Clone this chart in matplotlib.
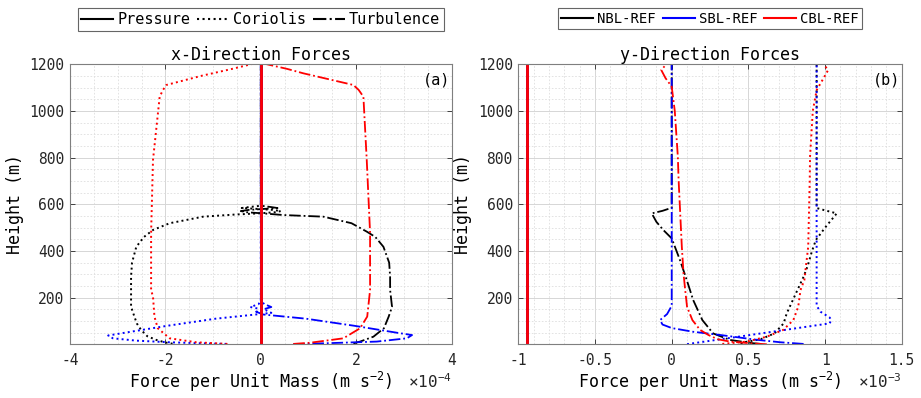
import numpy as np
import matplotlib
matplotlib.use('Agg')
import matplotlib.pyplot as plt
from matplotlib.ticker import MultipleLocator
from matplotlib.lines import Line2D

plt.rcParams['font.family'] = 'DejaVu Sans Mono'
plt.rcParams['mathtext.fontset'] = 'custom'
plt.rcParams['mathtext.rm'] = 'DejaVu Sans Mono'
plt.rcParams['mathtext.it'] = 'DejaVu Sans Mono'
plt.rcParams['axes.unicode_minus'] = False

# ---- x-direction forces (units of 1e-4 m s^-2), heights in m ----
x_pres = 0.0

nbl_cor_x_z = [3, 8, 19, 35, 62, 90, 119, 161, 233, 290, 350, 418, 460, 490, 519, 547,
               556, 561, 566, 571, 576, 580, 584, 588, 594, 800, 1200]
nbl_cor_x = [-1.85, -2.0, -2.19, -2.38, -2.51, -2.6, -2.65, -2.72, -2.72, -2.72, -2.7, -2.61,
             -2.45, -2.26, -1.91, -1.21, -0.55, -0.05, 0.3, 0.42, 0.25, -0.05, -0.4, -0.25, 0, 0, 0]
nbl_tur_x_z = [4, 12, 33, 69, 119, 161, 233, 290, 350, 418, 460, 483, 519, 547,
               554, 561, 566, 571, 576, 580, 584, 588, 594, 800, 1200]
nbl_tur_x = [1.94, 2.08, 2.36, 2.58, 2.68, 2.75, 2.71, 2.71, 2.69, 2.57, 2.4, 2.22, 1.9, 1.31,
             0.47, 0.05, -0.3, -0.42, -0.25, 0.05, 0.35, 0.22, 0, 0, 0]

sbl_cor_x_z = [2, 5, 9, 16, 26, 38, 50, 80, 110, 135, 147, 160, 172, 185, 1200]
sbl_cor_x = [-0.72, -1.3, -1.91, -2.61, -3.1, -3.2, -2.85, -1.95, -0.95, 0.22, 0.1, -0.22, -0.05, 0, 0]
sbl_tur_x_z = [1, 5, 12, 26, 40, 50, 80, 110, 128, 140, 150, 160, 172, 185, 1200]
sbl_tur_x = [0.68, 1.38, 2.43, 3.06, 3.17, 2.85, 1.95, 0.95, 0.05, -0.1, 0.05, 0.22, 0.08, 0, 0]

cbl_cor_x_z = [2, 9, 26, 69, 119, 204, 233, 477, 790, 1061, 1090, 1111, 1150, 1180, 1200]
cbl_cor_x = [-0.7, -1.35, -1.91, -2.16, -2.23, -2.26, -2.3, -2.3, -2.26, -2.12, -2.05, -1.98,
             -1.25, -0.6, -0.2]
cbl_tur_x_z = [2, 7, 26, 69, 119, 233, 477, 790, 1061, 1090, 1111, 1161, 1180, 1200]
cbl_tur_x = [0.68, 1.03, 1.73, 2.08, 2.23, 2.29, 2.29, 2.22, 2.15, 2.05, 1.94, 0.89, 0.55, 0.12]

# ---- y-direction forces (units of 1e-3 m s^-2) ----
y_pres = -0.945

nbl_cor_y_z = [2, 9, 22, 47, 90, 133, 233, 290, 333, 400, 447, 500, 540, 561, 574, 584, 1200]
nbl_cor_y = [0.45, 0.47, 0.58, 0.67, 0.73, 0.75, 0.82, 0.86, 0.885, 0.915, 0.94, 1.0, 1.05,
             1.076, 1.0, 0.945, 0.945]
nbl_tur_y_z = [2, 5, 19, 47, 104, 190, 276, 361, 454, 490, 525, 561, 572, 585, 1200]
nbl_tur_y = [0.58, 0.53, 0.38, 0.27, 0.2, 0.14, 0.098, 0.054, 0.0, -0.055, -0.1, -0.13,
             -0.06, 0, 0]

sbl_cor_y_z = [1, 22, 42, 67, 90, 104, 115, 140, 165, 1200]
sbl_cor_y = [0.1, 0.32, 0.53, 0.79, 1.03, 1.04, 1.03, 0.97, 0.945, 0.945]
sbl_tur_y_z = [2, 9, 20, 40, 54, 70, 85, 104, 130, 165, 1200]
sbl_tur_y = [0.86, 0.71, 0.55, 0.32, 0.14, 0.0, -0.06, -0.076, -0.03, 0, 0]

cbl_cor_y_z = [2, 5, 12, 33, 62, 104, 161, 233, 276, 418, 704, 804, 1000, 1089, 1140, 1175, 1200]
cbl_cor_y = [0.33, 0.38, 0.49, 0.62, 0.727, 0.793, 0.825, 0.84, 0.865, 0.89, 0.9, 0.902,
             0.92, 0.945, 0.99, 1.02, 0.99]
cbl_tur_y_z = [0.5, 5, 12, 22, 40, 62, 104, 161, 233, 304, 418, 704, 804, 1000, 1104, 1140, 1175, 1200]
cbl_tur_y = [0.62, 0.51, 0.38, 0.3, 0.24, 0.185, 0.135, 0.1, 0.088, 0.077, 0.066, 0.045,
             0.04, 0.02, 0.0, -0.04, -0.068, -0.035]

cases = ['NBL-REF', 'SBL-REF', 'CBL-REF']
colors = ['k', 'b', 'r']
z_top = 1200

fig = plt.figure(figsize=(9.21, 3.98), dpi=100)
ax_a = fig.add_axes([0.076, 0.1347, 0.4144, 0.704])
ax_b = fig.add_axes([0.5628, 0.1347, 0.4163, 0.704])

x_sets = [(nbl_cor_x_z, nbl_cor_x, nbl_tur_x_z, nbl_tur_x),
          (sbl_cor_x_z, sbl_cor_x, sbl_tur_x_z, sbl_tur_x),
          (cbl_cor_x_z, cbl_cor_x, cbl_tur_x_z, cbl_tur_x)]
y_sets = [(nbl_cor_y_z, nbl_cor_y, nbl_tur_y_z, nbl_tur_y),
          (sbl_cor_y_z, sbl_cor_y, sbl_tur_y_z, sbl_tur_y),
          (cbl_cor_y_z, cbl_cor_y, cbl_tur_y_z, cbl_tur_y)]

for ax, sets, pres in [(ax_a, x_sets, x_pres), (ax_b, y_sets, y_pres)]:
    for (cz, cx, tz, tx), c in zip(sets, colors):
        ax.plot([pres, pres], [0, z_top], color=c, ls='-', lw=2.0)
        ax.plot(cx, cz, color=c, ls=':', lw=1.4)
        ax.plot(tx, tz, color=c, ls='-.', lw=1.3)


def style_axes(ax, xlim, xminor, xticks, xticklabels, title, tag, exponent):
    ax.set_xlim(*xlim)
    ax.set_ylim(0, z_top)
    ax.set_xticks(xticks)
    ax.set_xticklabels(xticklabels)
    ax.xaxis.set_minor_locator(MultipleLocator(xminor))
    ax.set_yticks([200, 400, 600, 800, 1000, 1200])
    ax.yaxis.set_minor_locator(MultipleLocator(50))
    ax.set_axisbelow(True)
    ax.grid(True, which='major', color='#d6d6d6', lw=0.7, ls='-')
    ax.grid(True, which='minor', color='#dedede', lw=0.6, ls=(0, (2, 2)))
    ax.tick_params(which='major', direction='in', top=True, right=True, length=3.5,
                   width=0.7, color='#404040', labelsize=10.5, labelcolor='#262626')
    ax.tick_params(axis='x', pad=6)
    ax.tick_params(axis='y', pad=4)
    ax.tick_params(which='minor', length=0)
    for sp in ax.spines.values():
        sp.set_color('#7f7f7f')
        sp.set_linewidth(0.8)
    ax.set_title(title, fontsize=12, pad=3)
    ax.text(0.961, 0.944, tag, transform=ax.transAxes, ha='center', va='center', fontsize=11)
    ax.set_xlabel('Force per Unit Mass (m s$^{-2}$)', fontsize=12, va='baseline')
    ax.xaxis.set_label_coords(0.5, -0.157)
    ax.text(1.0, -0.157, '×10$^{' + exponent + '}$', transform=ax.transAxes,
            ha='right', va='baseline', fontsize=11.5, color='#262626')
    ax.set_ylabel('Height (m)', fontsize=12, ha='center', va='center')
    ax.yaxis.set_label_coords(-0.144, 0.5)


style_axes(ax_a, (-4, 4), 0.5, [-4, -2, 0, 2, 4], ['-4', '-2', '0', '2', '4'],
           'x-Direction Forces', '(a)', '-4')
style_axes(ax_b, (-1, 1.5), 0.1, [-1, -0.5, 0, 0.5, 1, 1.5],
           ['-1', '-0.5', '0', '0.5', '1', '1.5'], 'y-Direction Forces', '(b)', '-3')

leg_kw = dict(ncol=3, loc='upper center', bbox_to_anchor=(0.5, 1.2), frameon=True,
              fancybox=False, edgecolor='#404040', borderaxespad=0, borderpad=0.25)

style_handles = [Line2D([], [], color='k', ls='-', lw=1.5),
                 Line2D([], [], color='k', ls=':', lw=1.5),
                 Line2D([], [], color='k', ls='-.', lw=1.5)]
leg_a = ax_a.legend(style_handles, ['Pressure', 'Coriolis', 'Turbulence'], fontsize=11,
                    handlelength=2.1, handletextpad=0.26, columnspacing=0.44, **leg_kw)
leg_a.get_frame().set_linewidth(0.8)

case_handles = [Line2D([], [], color=c, ls='-', lw=1.5) for c in colors]
leg_b = ax_b.legend(case_handles, cases, fontsize=10, handlelength=2.3,
                    handletextpad=0.29, columnspacing=0.48, **leg_kw)
leg_b.get_frame().set_linewidth(0.8)

fig.savefig('out.png', dpi=100, facecolor='white')
